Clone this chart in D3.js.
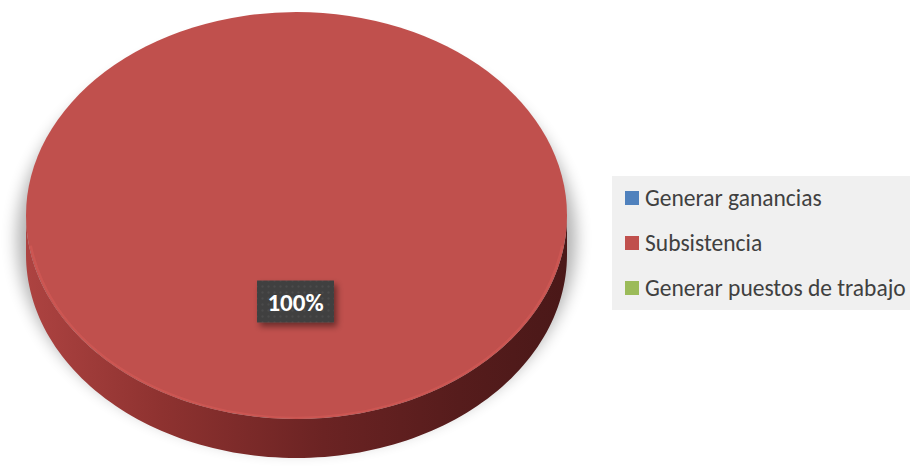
<!DOCTYPE html>
<html>
<head>
<meta charset="utf-8">
<script src="https://cdn.jsdelivr.net/npm/d3@7/dist/d3.min.js"></script>
<style>
  html, body { margin: 0; padding: 0; background: #ffffff; }
  svg { display: block; }
</style>
</head>
<body>
<svg id="chart" width="910" height="476"></svg>
<script>
// Purpose of the business
const categories = ["Generar ganancias", "Subsistencia", "Generar puestos de trabajo"];
const values = [0, 100, 0];
const colors = ["#4f81bd", "#c0504d", "#9bbb59"];

const W = 910, H = 476;
const svg = d3.select("#chart");
const defs = svg.append("defs");

// 3D pie geometry
const cx = 296.5, cy = 215.5, rx = 270.5, ry = 203.5, depth = 39;
const k = ry / rx;

const pie = d3.pie().sort(null).value(d => d.value);
const arcs = pie(categories.map((c, i) => ({ name: c, value: values[i], color: colors[i] })));
const total = d3.sum(values);

// soft drop shadow under the disc
const shadowFilter = defs.append("filter").attr("id", "discShadow")
  .attr("x", "-20%").attr("y", "-20%").attr("width", "140%").attr("height", "140%");
shadowFilter.append("feGaussianBlur").attr("stdDeviation", 8);

const sideGrad = defs.append("linearGradient").attr("id", "sideGrad")
  .attr("gradientUnits", "userSpaceOnUse")
  .attr("x1", cx - rx).attr("x2", cx + rx).attr("y1", 0).attr("y2", 0);
sideGrad.append("stop").attr("offset", "0%").attr("stop-color", "#ad4341");
sideGrad.append("stop").attr("offset", "25%").attr("stop-color", "#8e3230");
sideGrad.append("stop").attr("offset", "55%").attr("stop-color", "#6b2323");
sideGrad.append("stop").attr("offset", "80%").attr("stop-color", "#561c1c");
sideGrad.append("stop").attr("offset", "100%").attr("stop-color", "#4a1818");

const g = svg.append("g");

// shadow
const sr = rx + 9, sry = ry + 8;
g.append("path")
  .attr("d", `M${cx - sr},${cy} a${sr},${sry} 0 1,0 ${2 * sr},0 a${sr},${sry} 0 1,0 ${-2 * sr},0 Z`)
  .attr("transform", `translate(0,${depth / 2 + 4})`)
  .attr("fill", "#000").attr("opacity", 0.3)
  .attr("filter", "url(#discShadow)");

// point on the ellipse for a d3 pie angle (0 at top, clockwise)
const pt = (a, dy = 0) => [cx + rx * Math.sin(a), cy - ry * Math.cos(a) + dy];

// side walls: only the front half (angles PI/2 .. 3PI/2) is visible
arcs.forEach(d => {
  if (d.value <= 0) return;
  const a0 = Math.max(d.startAngle, Math.PI / 2);
  const a1 = Math.min(d.endAngle, 3 * Math.PI / 2);
  if (a1 <= a0) return;
  const n = 120;
  const top = d3.range(n + 1).map(i => pt(a0 + (a1 - a0) * i / n));
  const bot = d3.range(n + 1).map(i => pt(a1 - (a1 - a0) * i / n, depth));
  const line = d3.line();
  g.append("path")
    .attr("d", line(top.concat(bot)) + "Z")
    .attr("fill", d.index === 1 ? "url(#sideGrad)" : d3.color(d.data.color).darker(1.2));
});

// top faces
const arcGen = d3.arc().innerRadius(0).outerRadius(rx);
g.selectAll("path.slice")
  .data(arcs.filter(d => d.value > 0))
  .join("path")
  .attr("class", "slice")
  .attr("transform", `translate(${cx},${cy}) scale(1,${k})`)
  .attr("d", arcGen)
  .attr("fill", d => d.data.color);

// thin bevel highlight along the front rim
g.append("path")
  .attr("transform", `translate(${cx},${cy}) scale(1,${k})`)
  .attr("d", d3.arc().innerRadius(rx - 3).outerRadius(rx - 0.5)
    .startAngle(Math.PI / 2 + 0.15).endAngle(3 * Math.PI / 2 - 0.15)())
  .attr("fill", "#d45a57").attr("opacity", 0.6);

// data label
const pattern = defs.append("pattern").attr("id", "dots")
  .attr("width", 6).attr("height", 6).attr("patternUnits", "userSpaceOnUse");
pattern.append("rect").attr("width", 6).attr("height", 6).attr("fill", "#404040");
pattern.append("rect").attr("x", 2).attr("y", 2).attr("width", 2).attr("height", 2).attr("fill", "#4c4c4c");

const labelShadow = defs.append("filter").attr("id", "labelShadow")
  .attr("x", "-30%").attr("y", "-30%").attr("width", "170%").attr("height", "190%");
labelShadow.append("feDropShadow").attr("dx", 3).attr("dy", 4).attr("stdDeviation", 3)
  .attr("flood-color", "#000").attr("flood-opacity", 0.45);

arcs.filter(d => d.value > 0).forEach(d => {
  const lx = cx - 1, ly = cy + 86;
  const bw = 77, bh = 42;
  const lg = svg.append("g").attr("transform", `translate(${lx},${ly})`);
  lg.append("rect")
    .attr("x", -bw / 2).attr("y", -bh / 2).attr("width", bw).attr("height", bh)
    .attr("fill", "url(#dots)").attr("filter", "url(#labelShadow)");
  lg.append("text")
    .attr("text-anchor", "middle").attr("dy", "0.36em")
    .attr("font-family", "Carlito, Lato, 'Open Sans', sans-serif")
    .attr("font-weight", "bold").attr("font-size", 25)
    .attr("fill", "#ffffff")
    .text(Math.round(d.value / total * 100) + "%");
});

// legend
const legX = 612, legY = 176;
svg.append("rect")
  .attr("x", legX).attr("y", legY).attr("width", W - legX).attr("height", 134)
  .attr("fill", "#f0f0f0");
const leg = svg.append("g").attr("transform", `translate(${legX},${legY})`);
categories.forEach((c, i) => {
  const row = leg.append("g").attr("transform", `translate(13,${15 + i * 45})`);
  row.append("rect").attr("width", 14).attr("height", 14).attr("fill", colors[i]);
  row.append("text")
    .attr("x", 20).attr("y", 7).attr("dy", "0.36em")
    .attr("font-family", "Carlito, Lato, 'Open Sans', sans-serif")
    .attr("font-size", 23.5)
    .attr("fill", "#404040")
    .text(c);
});
</script>
</body>
</html>
